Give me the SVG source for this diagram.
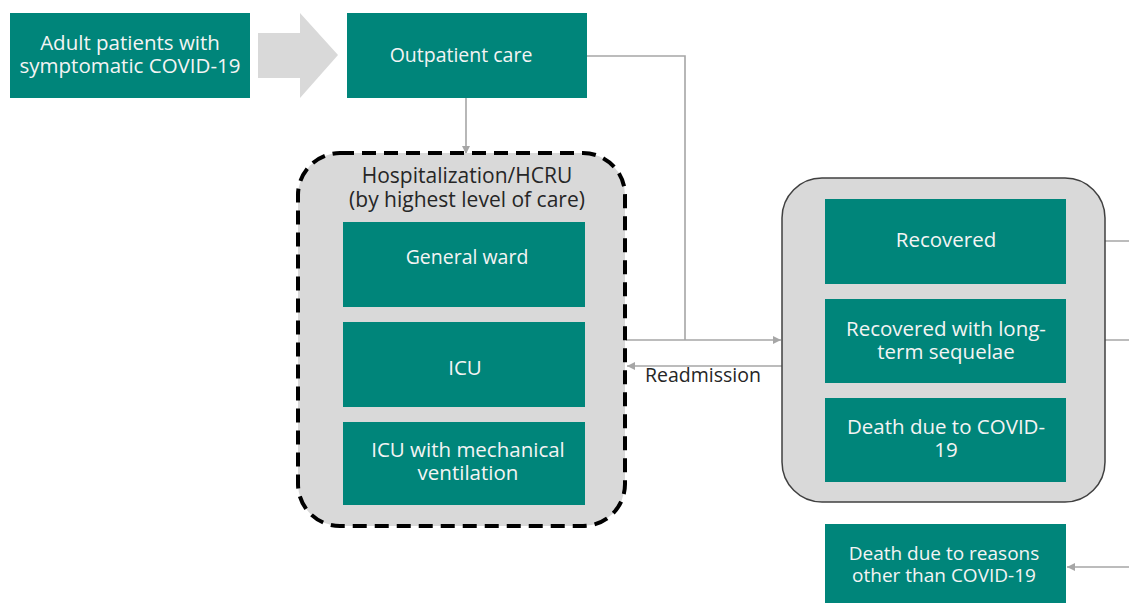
<svg xmlns="http://www.w3.org/2000/svg" width="1129" height="603" viewBox="0 0 1129 603">
<style>
.box{fill:#00857a}
.t{font-family:"Open Sans","Noto Sans",sans-serif;font-size:20.5px;fill:#f4f4f4;text-anchor:middle}
.tn{font-family:"Open Sans","Noto Sans",sans-serif;font-size:19.5px;fill:#f4f4f4;text-anchor:middle}
.ts{font-family:"Open Sans","Noto Sans",sans-serif;font-size:19px;fill:#f4f4f4;text-anchor:middle}
.dk{font-family:"Open Sans","Noto Sans",sans-serif;font-size:19.5px;fill:#262626;text-anchor:middle}
.ln{fill:none;stroke:#a6a6a6;stroke-width:1.6}
</style>
<defs>
<marker id="ah" viewBox="0 0 10 10" refX="10" refY="5" markerWidth="8" markerHeight="8" markerUnits="userSpaceOnUse" orient="auto"><path d="M0,0 L10,5 L0,10 z" fill="#a6a6a6"/></marker>
</defs>
<rect width="1129" height="603" fill="#ffffff"/>
<g id="connectors">
<polygon points="258,33 300,33 300,13 338,55 300,98 300,78 258,78" fill="#d9d9d9"/>
<path class="ln" d="M587,56 H685 V340"/>
<path class="ln" d="M466,98 V154" marker-end="url(#ah)"/>
<path class="ln" d="M626,340 H781" marker-end="url(#ah)"/>
<path class="ln" d="M782,366 H627" marker-end="url(#ah)"/>
<path class="ln" d="M1066,241 H1129"/>
<path class="ln" d="M1066,340 H1129"/>
<path class="ln" d="M1129,567 H1067" marker-end="url(#ah)"/>
</g>
<g id="adult">
<rect class="box" x="10" y="13" width="240" height="85"/>
<text class="t" x="130" y="50">Adult patients with</text>
<text class="t" x="130" y="73">symptomatic COVID-19</text>
</g>
<g id="outpatient">
<rect class="box" x="347" y="13" width="240" height="85"/>
<text class="tn" x="461" y="62">Outpatient care</text>
</g>
<g id="hospital">
<rect x="298" y="153" width="327" height="373" rx="42" fill="#d9d9d9" stroke="#000" stroke-width="4" stroke-dasharray="14,8"/>
<text class="dk" x="467" y="183" style="font-size:21px">Hospitalization/HCRU</text>
<text class="dk" x="467" y="207" style="font-size:21px">(by highest level of care)</text>
</g>
<g id="general-ward">
<rect class="box" x="343" y="222" width="242" height="85"/>
<text class="tn" x="467" y="264">General ward</text>
</g>
<g id="icu">
<rect class="box" x="343" y="322" width="242" height="85"/>
<text class="t" x="465" y="375">ICU</text>
</g>
<g id="icu-mv">
<rect class="box" x="343" y="422" width="242" height="83"/>
<text class="t" x="468" y="457">ICU with mechanical</text>
<text class="t" x="468" y="480">ventilation</text>
</g>
<g id="readmission-label">
<text class="dk" x="703" y="382">Readmission</text>
</g>
<g id="outcomes">
<rect x="782" y="178" width="323" height="324" rx="40" fill="#d9d9d9" stroke="#404040" stroke-width="1.5"/>
</g>
<g id="recovered">
<rect class="box" x="825" y="199" width="241" height="85"/>
<text class="t" x="946" y="247">Recovered</text>
</g>
<g id="recovered-sequelae">
<rect class="box" x="825" y="299" width="241" height="84"/>
<text class="t" x="946" y="336">Recovered with long-</text>
<text class="t" x="946" y="359">term sequelae</text>
</g>
<g id="death-covid">
<rect class="box" x="825" y="398" width="241" height="84"/>
<text class="t" x="946" y="434">Death due to COVID-</text>
<text class="t" x="946" y="457">19</text>
</g>
<g id="death-other">
<rect class="box" x="825" y="524" width="241" height="85"/>
<text class="ts" x="944" y="560">Death due to reasons</text>
<text class="ts" x="944" y="582">other than COVID-19</text>
</g>
</svg>
